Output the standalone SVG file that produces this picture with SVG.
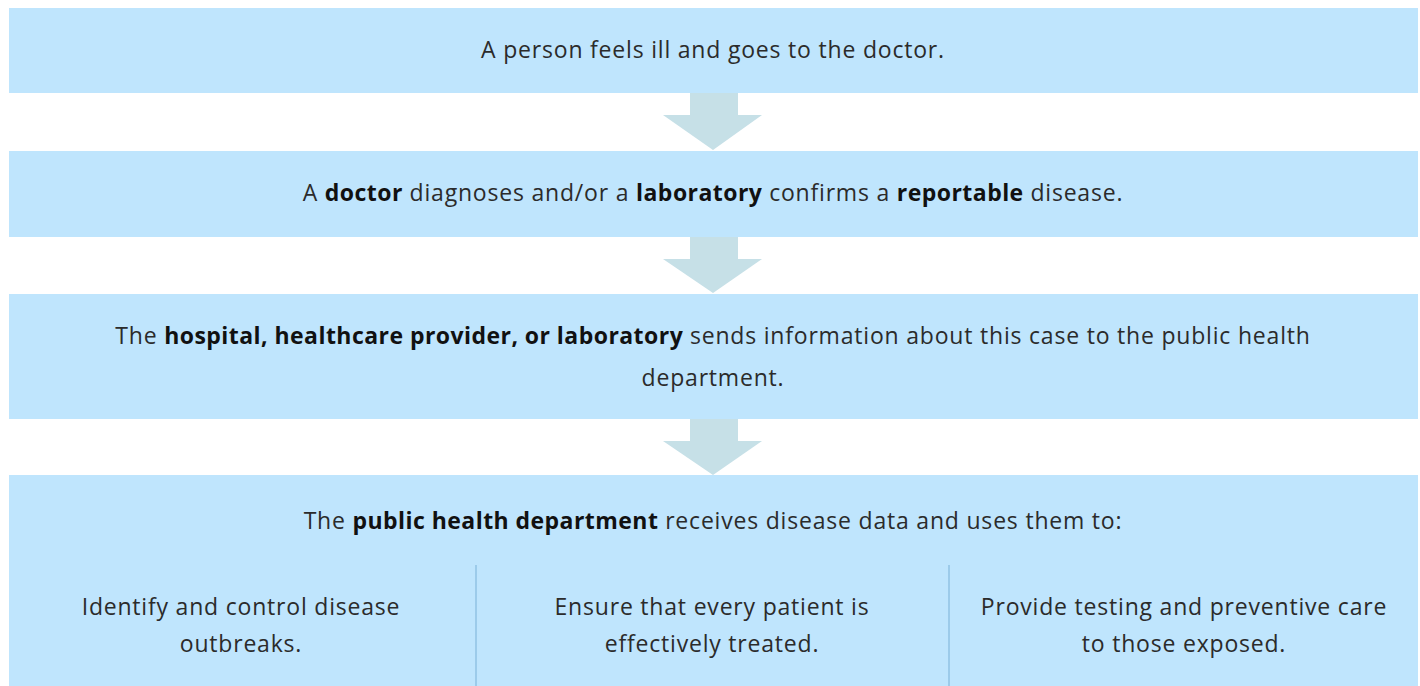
<svg xmlns="http://www.w3.org/2000/svg" width="1420" height="686" viewBox="0 0 1420 686">
<defs>
<style>
.box{fill:#bfe5fd;}
.arrow{fill:#c6e0e7;}
.div{stroke:#9ccbea;stroke-width:2;}
text{font-family:"Open Sans","Noto Sans",sans-serif;font-size:23px;fill:#2b2b2b;text-anchor:middle;letter-spacing:0.8px;}
.b{font-weight:700;fill:#111;letter-spacing:0.45px;}
</style>
</defs>
<rect width="1420" height="686" fill="#ffffff"/>
<g id="connectors">
<polygon class="arrow" points="690,93 738,93 738,115 762,115 713,150 663,115 690,115"/>
<polygon class="arrow" points="690,237 738,237 738,259 762,259 713,293 663,259 690,259"/>
<polygon class="arrow" points="690,419 738,419 738,441 762,441 713,475 663,441 690,441"/>
</g>
<g id="step1">
<rect class="box" x="9" y="8" width="1409" height="85"/>
<text x="713" y="58">A person feels ill and goes to the doctor.</text>
</g>
<g id="step2">
<rect class="box" x="9" y="151" width="1409" height="86"/>
<text x="713" y="201">A <tspan class="b">doctor</tspan> diagnoses and/or a <tspan class="b">laboratory</tspan> confirms a <tspan class="b">reportable</tspan> disease.</text>
</g>
<g id="step3">
<rect class="box" x="9" y="294" width="1409" height="125"/>
<text x="713" y="344">The <tspan class="b">hospital, healthcare provider, or laboratory</tspan> sends information about this case to the public health</text>
<text x="713" y="386">department.</text>
</g>
<g id="step4">
<rect class="box" x="9" y="475" width="1409" height="211"/>
<text x="713" y="529">The <tspan class="b">public health department</tspan> receives disease data and uses them to:</text>
<line class="div" x1="476" y1="565" x2="476" y2="686"/>
<line class="div" x1="949" y1="565" x2="949" y2="686"/>
</g>
<g id="use1">
<text x="241" y="615">Identify and control disease</text>
<text x="241" y="652">outbreaks.</text>
</g>
<g id="use2">
<text x="712" y="615">Ensure that every patient is</text>
<text x="712" y="652">effectively treated.</text>
</g>
<g id="use3">
<text x="1184" y="615">Provide testing and preventive care</text>
<text x="1184" y="652">to those exposed.</text>
</g>
</svg>
